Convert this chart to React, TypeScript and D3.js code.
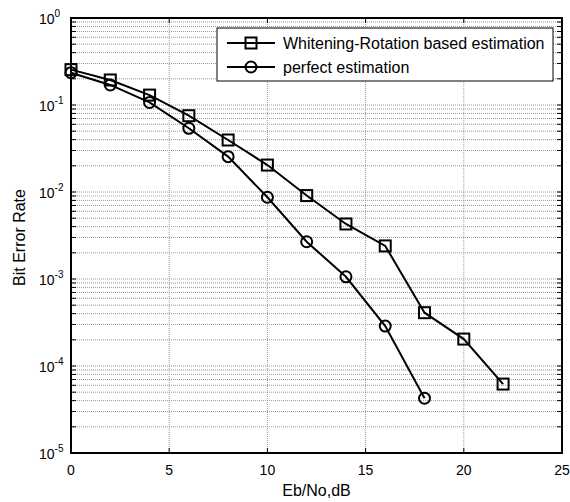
import React from "react";
import * as d3 from "d3";

const snrDb = [0, 2, 4, 6, 8, 10, 12, 14, 16, 18, 20, 22];
const berWhitening = [0.255, 0.194, 0.13, 0.0753, 0.0396, 0.0204, 0.0091, 0.00429, 0.0024, 4.1e-4, 2.04e-4, 6.2e-5];
const snrPerfect = [0, 2, 4, 6, 8, 10, 12, 14, 16, 18];
const berPerfect = [0.235, 0.17, 0.107, 0.054, 0.0255, 0.0087, 0.00268, 0.00106, 2.88e-4, 4.26e-5];
const xTicks = [0, 5, 10, 15, 20, 25];
const yExponents = [0, -1, -2, -3, -4, -5];
const legendLabels = ["Whitening-Rotation based estimation", "perfect estimation"];
const xLabel = "Eb/No,dB";
const yLabel = "Bit Error Rate";

const W = 570, H = 502;
const L = 71, R = 562, T = 18, B = 453;
const FONT = "'Liberation Sans', Arial, sans-serif";

export default function App() {
  const x = d3.scaleLinear().domain([0, 25]).range([L, R]);
  const y = d3.scaleLog().domain([1e-5, 1]).range([B, T]);
  const line = d3.line<[number, number]>().x(d => x(d[0])).y(d => y(d[1]));
  const minor: number[] = [];
  for (let e = -5; e < 0; e++) for (let m = 2; m <= 9; m++) minor.push(m * Math.pow(10, e));
  const major = yExponents.map(e => Math.pow(10, e));
  const gridStyle = { stroke: "#9a9a9a", strokeWidth: 1, strokeDasharray: "1 1" };
  const tl = 5;
  const sq = 11, cr = 5.5;
  const wData: [number, number][] = snrDb.map((v, i) => [v, berWhitening[i]]);
  const pData: [number, number][] = snrPerfect.map((v, i) => [v, berPerfect[i]]);
  const lx = 217, ly = 28, lw = 336, lh = 53;
  return (
    <svg width={W} height={H} style={{ position: "absolute", left: 0, top: 0, background: "#fff" }} fontFamily={FONT}>
      <rect x={0} y={0} width={W} height={H} fill="#fff" />
      {/* grid */}
      {xTicks.slice(1, -1).map(t => (
        <line key={"gx" + t} x1={x(t)} x2={x(t)} y1={T} y2={B} {...gridStyle} />
      ))}
      {[...minor, ...major.slice(1, -1)].map((v, i) => (
        <line key={"gy" + i} x1={L} x2={R} y1={y(v)} y2={y(v)} {...gridStyle} />
      ))}
      {/* ticks */}
      {xTicks.map(t => (
        <g key={"tx" + t} stroke="#000" strokeWidth={1}>
          <line x1={x(t)} x2={x(t)} y1={B} y2={B - tl} />
          <line x1={x(t)} x2={x(t)} y1={T} y2={T + tl} />
        </g>
      ))}
      {[...minor, ...major].map((v, i) => (
        <g key={"ty" + i} stroke="#000" strokeWidth={1}>
          <line x1={L} x2={L + tl} y1={y(v)} y2={y(v)} />
          <line x1={R} x2={R - tl} y1={y(v)} y2={y(v)} />
        </g>
      ))}
      {/* box */}
      <rect x={L} y={T} width={R - L} height={B - T} fill="none" stroke="#000" strokeWidth={2} />
      {/* tick labels */}
      {xTicks.map(t => (
        <text key={"lx" + t} x={x(t)} y={475} textAnchor="middle" fontSize={14}>{t}</text>
      ))}
      {yExponents.map(e => (
        <text key={"ly" + e} x={39} y={y(Math.pow(10, e)) + 6} fontSize={14}>
          10<tspan dy={-7} fontSize={10}>{e}</tspan>
        </text>
      ))}
      <text x={(L + R) / 2} y={496} textAnchor="middle" fontSize={16}>{xLabel}</text>
      <text transform={`translate(25,${(T + B) / 2 + 2}) rotate(-90)`} textAnchor="middle" fontSize={16}>{yLabel}</text>
      {/* series */}
      <path d={line(wData) || ""} fill="none" stroke="#000" strokeWidth={2} />
      <path d={line(pData) || ""} fill="none" stroke="#000" strokeWidth={2} />
      {wData.map((d, i) => (
        <rect key={"s" + i} x={x(d[0]) - sq / 2} y={y(d[1]) - sq / 2} width={sq} height={sq} fill="none" stroke="#000" strokeWidth={2} />
      ))}
      {pData.map((d, i) => (
        <circle key={"c" + i} cx={x(d[0])} cy={y(d[1])} r={cr} fill="none" stroke="#000" strokeWidth={2} />
      ))}
      {/* legend */}
      <rect x={lx} y={ly} width={lw} height={lh} fill="#fff" stroke="#000" strokeWidth={1} />
      <line x1={227} x2={275} y1={43} y2={43} stroke="#000" strokeWidth={2} />
      <rect x={251 - sq / 2} y={43 - sq / 2} width={sq} height={sq} fill="none" stroke="#000" strokeWidth={2} />
      <text x={283} y={48.5} fontSize={16}>{legendLabels[0]}</text>
      <line x1={227} x2={275} y1={67} y2={67} stroke="#000" strokeWidth={2} />
      <circle cx={251} cy={67} r={cr} fill="none" stroke="#000" strokeWidth={2} />
      <text x={283} y={72.5} fontSize={16}>{legendLabels[1]}</text>
    </svg>
  );
}
